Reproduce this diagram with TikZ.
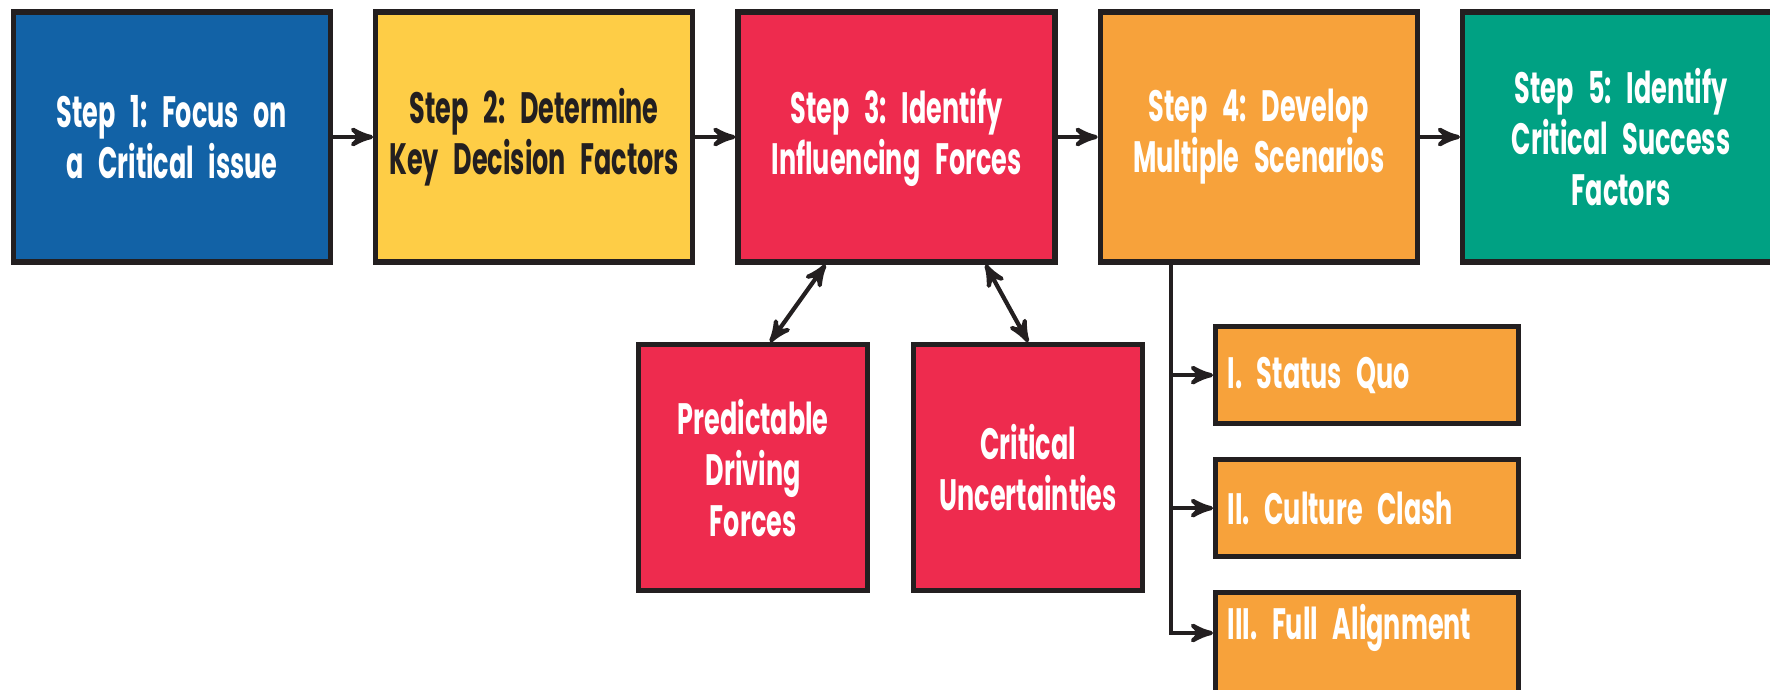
\documentclass[tikz,border=0pt]{standalone}
\usepackage{xcolor}
\usepackage{fontspec}
\newfontfamily\stepfont{Poppins}[FakeStretch=0.58, WordSpace=0.75]
\frenchspacing
\usepackage{tikz}
\usetikzlibrary{arrows,shapes,positioning}
\definecolor{stepblue}{HTML}{1262A6}
\definecolor{stepyellow}{HTML}{FECD46}
\definecolor{stepred}{HTML}{EE2B4E}
\definecolor{steporange}{HTML}{F7A23B}
\definecolor{stepgreen}{HTML}{00A183}
\definecolor{stepink}{HTML}{231F20}
\tikzset{
  every picture/.style = {
    >=stealth',
    node distance = 0.4cm and 0.4cm,
  }
  ,
  stepbox/.style = {
    rectangle,
    draw = stepink,
    line width = 1.5pt,
    inner xsep = 0pt,
    minimum width = 3.17cm,
    minimum height = 2.5cm,
    text width = 3.12cm,
    align = center,
    text = white,
    font = \stepfont\bfseries\fontsize{12.5}{14.5}\selectfont
  }
  , % the two forces below step 3
  forcebox/.style = {
    stepbox,
    fill = stepred,
    minimum width = 2.29cm,
    minimum height = 2.46cm,
    text width = 2.2cm
  }
  , % the scenarios of step 4
  scenbox/.style = {
    stepbox,
    fill = steporange,
    inner xsep = 0.12cm,
    minimum width = 3.03cm,
    minimum height = 0.97cm,
    text width = 2.79cm,
    align = left
  }
  ,
  link/.style = {
    draw = stepink,
    line width = 1.2pt
  }
}
\begin{document}
\begin{tikzpicture}
    \useasboundingbox (0,0) rectangle (17.7,-6.89);
    \clip (0,0) rectangle (17.7,-6.89);
    % top row
    \node [stepbox, fill = stepblue] (s1) at (1.72,-1.37) {Step 1: Focus on\\a Critical issue};
    \node [stepbox, fill = stepyellow, text = stepink, right = of s1] (s2) {Step 2: Determine\\Key Decision Factors};
    \node [stepbox, fill = stepred, right = of s2] (s3) {Step 3: Identify\\Influencing Forces};
    \node [stepbox, fill = steporange, right = of s3] (s4) {Step 4: Develop\\Multiple Scenarios};
    \node [stepbox, fill = stepgreen, right = of s4] (s5) {Step 5: Identify\\Critical Success\\Factors};
    \foreach \a/\b in {s1/s2, s2/s3, s3/s4, s4/s5}
      \draw [link, ->] (\a) -- (\b);
    % forces
    \node [forcebox, anchor = north west] (pdf) at (6.36,-3.42) {Predictable\\Driving\\Forces};
    \node [forcebox, anchor = north west] (cu) at (9.11,-3.42) {Critical\\Uncertainties};
    \draw [link, <->] ([xshift=-0.71cm]s3.south) -- ([xshift=0.17cm]pdf.north);
    \draw [link, <->] ([xshift=0.89cm]s3.south) -- (cu.north);
    % scenarios
    \node [scenbox, anchor = north west] (sq) at (12.13,-3.24) {I. Status Quo};
    \node [scenbox, anchor = north west] (cc) at (12.13,-4.57) {II. Culture Clash};
    \node [scenbox, anchor = north west, text depth = 0.6cm] (fa) at (12.13,-5.9) {III. Full Alignment};
    \coordinate (trunk) at (11.71,-2.63);
    \draw [link, ->] (trunk) |- ([yshift=-0.43cm]fa.north west);
    \draw [link, ->] (trunk |- sq.west) -- (sq.west);
    \draw [link, ->] (trunk |- cc.west) -- (cc.west);
\end{tikzpicture}
\end{document}
